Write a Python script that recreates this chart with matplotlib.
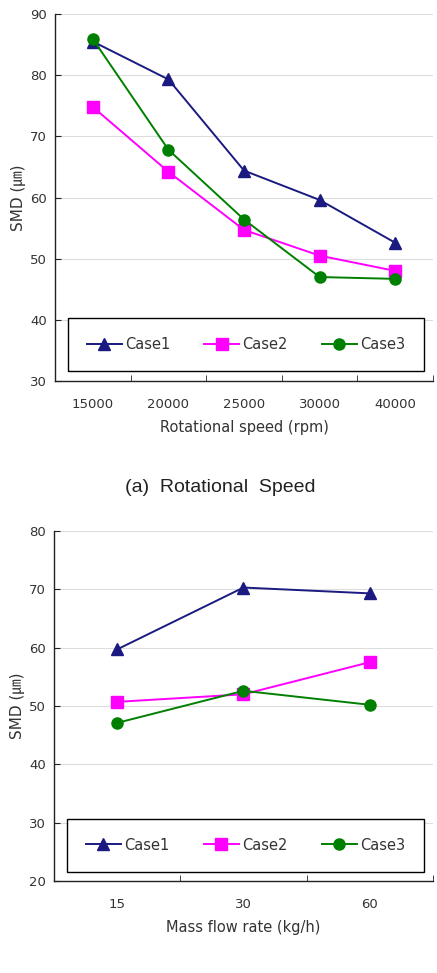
import numpy as np
import matplotlib
matplotlib.use("Agg")
import matplotlib.pyplot as plt

plt.rcParams['font.family'] = ['DejaVu Sans', 'Noto Sans CJK KR']

# data
speeds = ['15000', '20000', '25000', '30000', '40000']
speed_case1 = [85.5, 79.3, 64.4, 59.6, 52.6]
speed_case2 = [74.8, 64.2, 54.7, 50.5, 48.0]
speed_case3 = [85.9, 67.8, 56.4, 47.0, 46.7]

flows = ['15', '30', '60']
flow_case1 = [59.7, 70.3, 69.3]
flow_case2 = [50.7, 52.0, 57.5]
flow_case3 = [47.1, 52.6, 50.2]

case_names = ['Case1', 'Case2', 'Case3']
colors = ['#1a1a80', '#ff00ff', '#008000']
markers = ['^', 's', 'o']
text_col = '#333333'


def draw(ax, cats, series, ylo, yhi, xlabel):
    x = np.arange(len(cats))
    for vals, name, c, m in zip(series, case_names, colors, markers):
        ax.plot(x, vals, color=c, marker=m, markersize=8, linewidth=1.4,
                label=name, zorder=3)
    ax.set_xlim(-0.5, len(cats) - 0.5)
    ax.set_ylim(ylo, yhi)
    ax.set_yticks(np.arange(ylo, yhi + 1, 10))
    for y in np.arange(ylo + 10, yhi + 1, 10):
        ax.axhline(y, color='#dddddd', linewidth=0.8, zorder=1)
    ax.set_xticks(x)
    ax.set_xticklabels(cats)
    ax.set_xticks(np.arange(0.5, len(cats), 1.0), minor=True)
    ax.tick_params(axis='x', which='major', length=0, pad=12,
                   labelsize=9.5, labelcolor=text_col)
    ax.tick_params(axis='x', which='minor', direction='in', length=4,
                   color='#222222')
    ax.tick_params(axis='y', direction='in', length=4, labelsize=9.5,
                   labelcolor=text_col, color='#222222', pad=6)
    for s in ['top', 'right']:
        ax.spines[s].set_visible(False)
    for s in ['left', 'bottom']:
        ax.spines[s].set_color('#222222')
        ax.spines[s].set_linewidth(1.0)
    ax.set_xlabel(xlabel, fontsize=10.5, color=text_col, labelpad=7)
    ax.set_ylabel('SMD (㎛)', fontsize=11, color=text_col, labelpad=3,
                  family=['DejaVu Sans', 'Noto Sans CJK KR'])
    leg = ax.legend(loc='lower left', bbox_to_anchor=(0.034, 0.027, 0.942, 0.15),
                    mode='expand', ncol=3, fontsize=10.5, fancybox=False,
                    edgecolor='black', framealpha=1, borderpad=1.3,
                    handlelength=2.4, handletextpad=0.2, columnspacing=1.5,
                    borderaxespad=0)
    leg.get_frame().set_linewidth(1.0)
    for t in leg.get_texts():
        t.set_color(text_col)


fig = plt.figure(figsize=(4.37, 9.73), dpi=100)

ax1 = fig.add_axes([0.126, 0.6084, 0.865, 0.3772])
draw(ax1, speeds, [speed_case1, speed_case2, speed_case3], 30, 90,
     'Rotational speed (rpm)')

fig.text(220 / 437, 1 - 487 / 973, '(a)  Rotational  Speed', ha='center',
         va='center', fontsize=14, color='#222222', family='Liberation Sans')

ax2 = fig.add_axes([0.1236, 0.0946, 0.867, 0.3597])
draw(ax2, flows, [flow_case1, flow_case2, flow_case3], 20, 80,
     'Mass flow rate (kg/h)')

fig.savefig('out.png', dpi=100)
